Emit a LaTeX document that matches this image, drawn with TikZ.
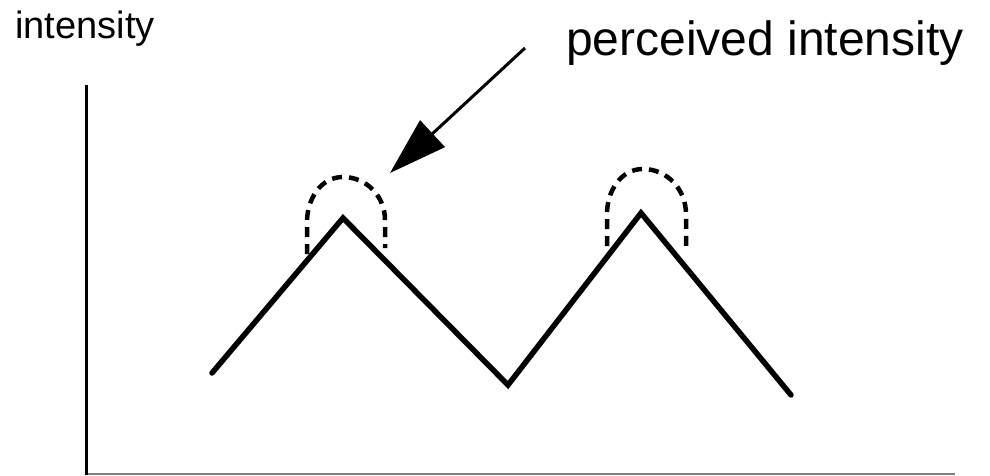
\documentclass[tikz,border=0pt]{standalone}
\usepackage{fontspec}
\setmainfont{Liberation Sans}
\usetikzlibrary{arrows.meta}
\tikzset{
  axis/.style={line width=3pt, black},
  baseaxis/.style={line width=2pt, gray},
  zig/.style={line width=5.5pt, line join=miter, line cap=round},
  perc/.style={line width=4.5pt, dash pattern=on 10pt off 7pt},
  pointer/.style={line width=3pt, -{Triangle[length=58pt,width=36pt]}},
  lbl/.style={inner sep=0pt, anchor=base west}
}
\begin{document}
\begin{tikzpicture}[x=1pt,y=-1pt]
\useasboundingbox (0,0) rectangle (990,475);
% labels
\node[lbl, font=\fontsize{38}{40}\selectfont] (ylab) at (15,38) {intensity};
\node[lbl, font=\fontsize{48}{50}\selectfont] (plab) at (566,55) {perceived intensity};
% axes
\coordinate (ytop) at (86,85);
\coordinate (orig) at (86,474);
\coordinate (xend) at (955,474);
\draw[baseaxis] (orig) -- (xend);
\draw[axis] (ytop) -- (86,475);
% zigzag
\coordinate (z0) at (212,373);
\coordinate (z1) at (343,218);
\coordinate (z2) at (508,385);
\coordinate (z3) at (641,213);
\coordinate (z4) at (791,395);
\draw[zig] (z0) -- (z1) -- (z2) -- (z3) -- (z4);
% perceived bumps
\coordinate (a0) at (307,254);
\coordinate (a1) at (343,177);
\coordinate (a2) at (385,248);
\draw[perc] (a0) -- (307,222) to[out=90,in=180] (a1) to[out=0,in=90] (385,220) -- (a2);
\coordinate (b0) at (607,246);
\coordinate (b1) at (643,169);
\coordinate (b2) at (686,250);
\draw[perc] (b0) -- (607,214) to[out=90,in=180] (b1) to[out=0,in=90] (686,214) -- (b2);
% arrow
\coordinate (atail) at (525,48);
\coordinate (ahead) at (390,173);
\draw[pointer] (atail) -- (ahead);
\end{tikzpicture}
\end{document}
